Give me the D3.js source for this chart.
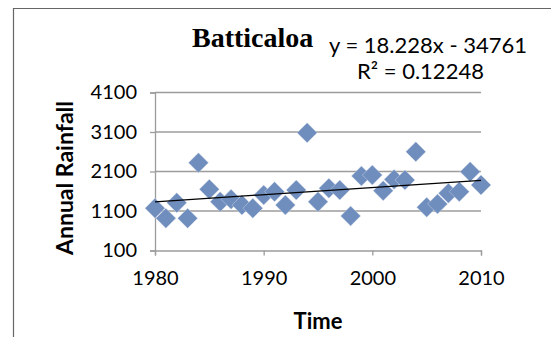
<!DOCTYPE html>
<html>
<head>
<meta charset="utf-8">
<script src="https://cdn.jsdelivr.net/npm/d3@7"></script>
<style>
  body { margin: 0; background: #fff; }
</style>
</head>
<body>
<svg id="chart" width="551" height="337"></svg>
<script>
// annual rainfall, Batticaloa
var years = [1980, 1981, 1982, 1983, 1984, 1985, 1986, 1987, 1988, 1989,
             1990, 1991, 1992, 1993, 1994, 1995, 1996, 1997, 1998, 1999,
             2000, 2001, 2002, 2003, 2004, 2005, 2006, 2007, 2008, 2009, 2010];
var rainfall = [1170, 915, 1310, 915, 2320, 1650, 1335, 1395, 1250, 1170,
                1505, 1590, 1250, 1630, 3080, 1335, 1675, 1630, 975, 1985,
                2010, 1615, 1900, 1885, 2600, 1195, 1280, 1550, 1590, 2095, 1760];
var xTicks = [1980, 1990, 2000, 2010];
var yTicks = [100, 1100, 2100, 3100, 4100];
var slope = 18.228;
var intercept = -34761;
var title = "Batticaloa";
var eqText = "y = 18.228x - 34761";
var r2Text = "R² = 0.12248";

var sans = "Lato, 'Open Sans', sans-serif";
var svg = d3.select("#chart");

var x = d3.scaleLinear().domain([1980, 2010]).range([155, 481]);
var y = d3.scaleLinear().domain([100, 4100]).range([250.5, 92.5]);

// outer frame (only top + left edges are visible)
svg.append("path")
    .attr("d", "M13.5,337 L13.5,8.5 L551,8.5")
    .attr("fill", "none")
    .attr("stroke", "#666")
    .attr("stroke-width", 1.2);

// gridlines
svg.append("g").selectAll("line")
    .data(yTicks.slice(1))
    .enter().append("line")
    .attr("x1", x(1980)).attr("x2", x(2010))
    .attr("y1", function (d) { return y(d); })
    .attr("y2", function (d) { return y(d); })
    .attr("stroke", "#9c9c9c")
    .attr("stroke-width", 1.3);

function styleAxis(g) {
    g.select(".domain").attr("stroke", "#9c9c9c").attr("stroke-width", 1.3);
    g.selectAll(".tick line").attr("stroke", "#9c9c9c").attr("stroke-width", 1.3);
    g.selectAll(".tick text")
        .style("font-family", sans)
        .style("font-size", "20px")
        .attr("fill", "#000");
}

// y axis
var yAxis = svg.append("g")
    .attr("transform", "translate(" + x(1980) + ",0)")
    .call(d3.axisLeft(y).tickValues(yTicks).tickSize(5).tickPadding(13).tickFormat(d3.format("d")));
styleAxis(yAxis);

// x axis
var xAxis = svg.append("g")
    .attr("transform", "translate(0," + y(100) + ")")
    .call(d3.axisBottom(x).tickValues(xTicks).tickSize(5).tickPadding(15).tickFormat(d3.format("d")));
styleAxis(xAxis);

// markers (diamonds)
svg.append("g").selectAll("path")
    .data(years)
    .enter().append("path")
    .attr("d", d3.symbol().type(d3.symbolSquare).size(200))
    .attr("transform", function (d, i) {
        return "translate(" + x(d) + "," + y(rainfall[i]) + ") rotate(45)";
    })
    .attr("fill", "#6f8dbd")
    .attr("stroke", "#dbe3ef")
    .attr("stroke-width", 0.4);

// trend line
svg.append("line")
    .attr("x1", x(1980)).attr("y1", y(slope * 1980 + intercept))
    .attr("x2", x(2010)).attr("y2", y(slope * 2010 + intercept))
    .attr("stroke", "#000")
    .attr("stroke-width", 1.3);

// titles
svg.append("text")
    .attr("x", 192).attr("y", 47)
    .style("font-family", "'Liberation Serif', 'Times New Roman', serif")
    .style("font-weight", "bold")
    .style("font-size", "28px")
    .text(title);

svg.append("text")
    .attr("x", 329).attr("y", 53)
    .style("font-family", sans)
    .style("font-size", "22px")
    .text(eqText);

svg.append("text")
    .attr("x", 357).attr("y", 79)
    .style("font-family", sans)
    .style("font-size", "22px")
    .text(r2Text);

svg.append("text")
    .attr("transform", "translate(73,178) rotate(-90)")
    .attr("text-anchor", "middle")
    .style("font-family", sans)
    .style("font-weight", "bold")
    .style("font-size", "23px")
    .text("Annual Rainfall");

svg.append("text")
    .attr("x", 318).attr("y", 329)
    .attr("text-anchor", "middle")
    .style("font-family", sans)
    .style("font-weight", "bold")
    .style("font-size", "22px")
    .text("Time");
</script>
</body>
</html>
